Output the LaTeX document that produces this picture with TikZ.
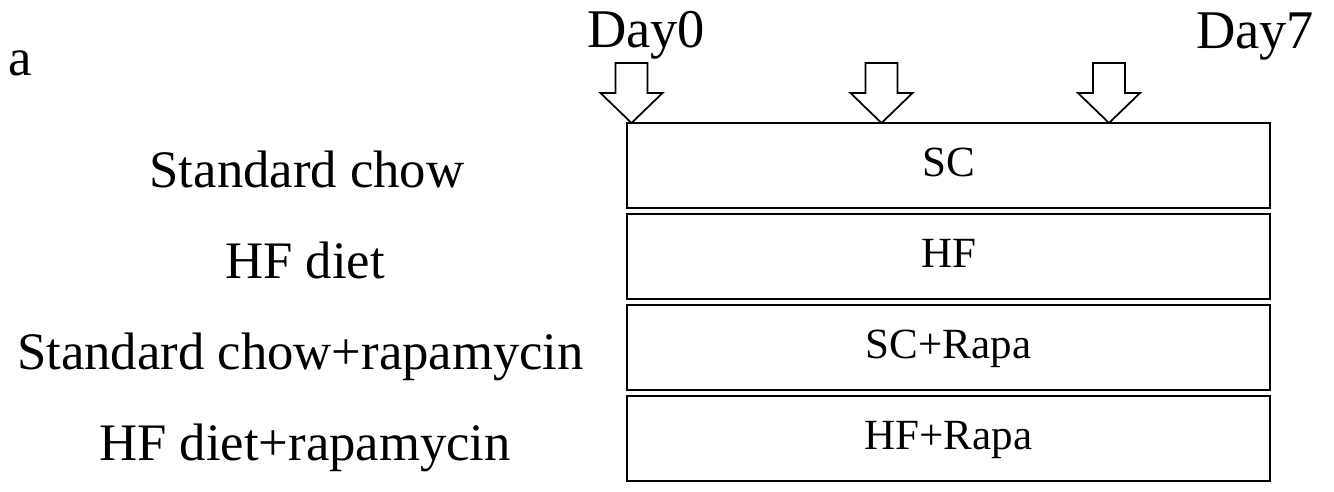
\documentclass[tikz,border=0pt]{standalone}
\usepackage{fontspec}
\setmainfont{Liberation Serif}

\tikzset{
  grouplabel/.style={anchor=base, inner sep=0pt, font=\fontsize{30}{35}\selectfont},
  daylabel/.style={anchor=base, inner sep=0pt, font=\fontsize{31}{36}\selectfont},
  dietbox/.style={draw, line width=1.1pt, minimum width=12.86cm, minimum height=1.7cm,
    inner sep=0pt, text height=0.42cm, text depth=0cm, font=\fontsize{24.5}{29}\selectfont},
  dosearrow/.style={draw, line width=1pt, fill=white, line join=miter}
}

\begin{document}
\begin{tikzpicture}[x=0.02cm, y=-0.02cm]
    \useasboundingbox (0,0) rectangle (1334,491);

    \node[grouplabel] (panel) at (20,75) {a};

    \node[daylabel] (day0) at (646,47) {Day0};
    \node[daylabel] (day7) at (1255,48) {Day7};

    \node[dietbox] (sc) at (948.5,165.5) {SC};
    \node[dietbox] (hf) at (948.5,256.5) {HF};
    \node[dietbox] (scrapa) at (948.5,347.5) {SC+Rapa};
    \node[dietbox] (hfrapa) at (948.5,438.5) {HF+Rapa};

    \node[grouplabel] (scname) at (307,187) {Standard chow};
    \node[grouplabel] (hfname) at (305,278) {HF diet};
    \node[grouplabel] (scrapaname) at (300.5,369) {Standard chow+rapamycin};
    \node[grouplabel] (hfrapaname) at (305,460) {HF diet+rapamycin};

    \draw[dosearrow]
    (615.5,63) -- (647.5,63) -- (647.5,93) -- (662.5,93) --
    (631.5,123) -- (600.5,93) -- (615.5,93) -- cycle;
    \draw[dosearrow]
    (865.5,63) -- (897.5,63) -- (897.5,93) -- (912.5,93) --
    (881.5,123) -- (850.5,93) -- (865.5,93) -- cycle;
    \draw[dosearrow]
    (1093,63) -- (1125,63) -- (1125,93) -- (1140,93) --
    (1109,123) -- (1078,93) -- (1093,93) -- cycle;
  \end{tikzpicture}
\end{document}
